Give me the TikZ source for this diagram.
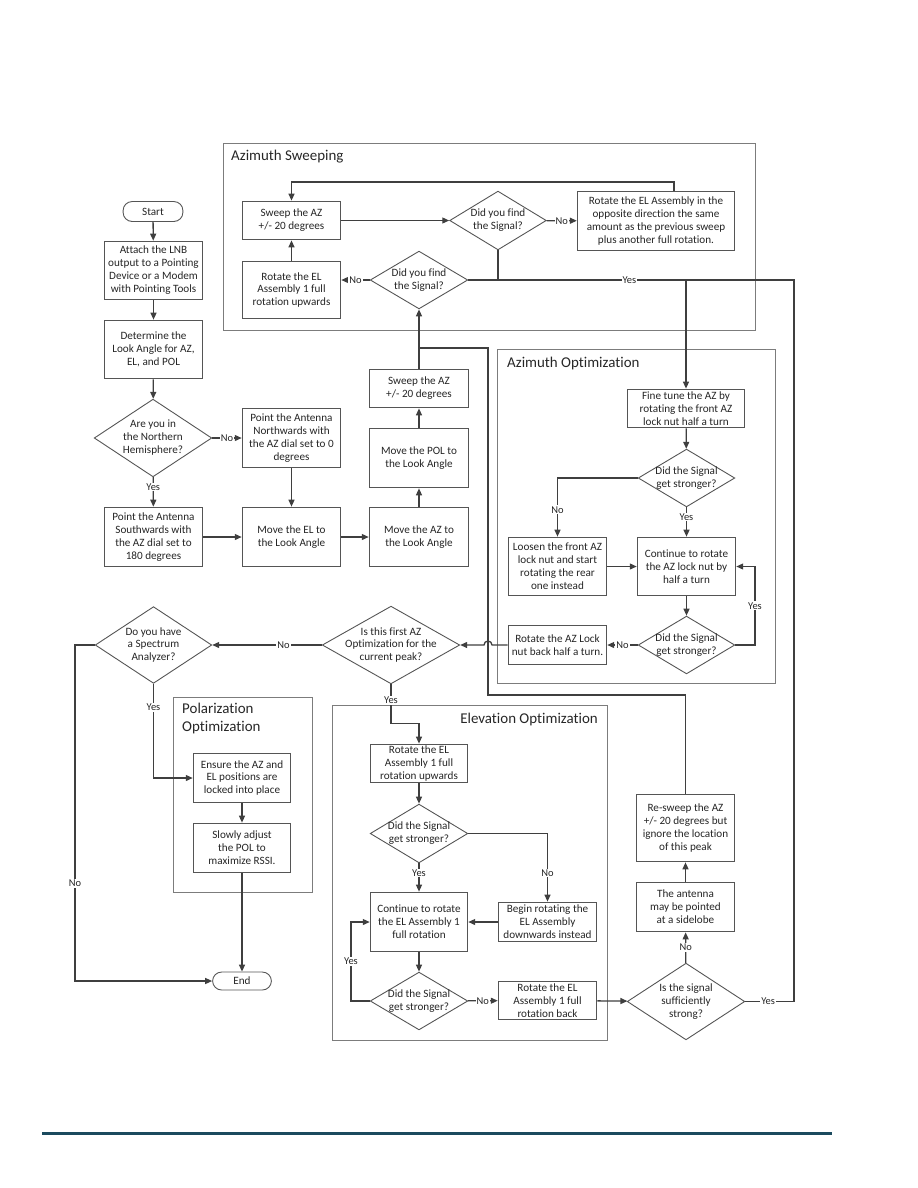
\documentclass[tikz,border=0pt]{standalone}
\usepackage{fontspec}
\setmainfont[Ligatures=NoCommon]{Carlito}
\usetikzlibrary{arrows.meta, shapes.geometric, calc}
\definecolor{flowink}{HTML}{262626}
\definecolor{flowline}{HTML}{3F3F3F}
\definecolor{flowbox}{HTML}{555555}
\definecolor{flowframe}{HTML}{7C7C7C}
\definecolor{footerteal}{HTML}{1B4A5E}
\newcommand{\flowfont}{\fontsize{11.2}{13}\selectfont}
\newcommand{\yesnofont}{\fontsize{10.5}{12}\selectfont}
\newcommand{\framefont}{\fontsize{15}{17.5}\selectfont}

\begin{document}
\begin{tikzpicture}[
  x=1bp,
  y=-1bp,
  every node/.style={text=flowink},
  proc/.style={draw=flowbox, line width=0.9pt, fill=white, align=center,
               font=\flowfont, inner sep=1pt, minimum width=99, minimum height=40},
  term/.style={draw=flowbox, line width=0.9pt, fill=white, rounded corners=9pt,
               font=\flowfont, inner sep=0pt, minimum width=60, minimum height=20},
  decision/.style={diamond, draw=flowbox, line width=0.9pt, fill=white,
                   inner sep=0pt, aspect=1.7},
  dectext/.style={align=center, font=\flowfont, inner sep=0pt},
  flow/.style={flowline, line width=1.3pt, -{Triangle[length=7pt, width=6pt]}},
  line/.style={flowline, line width=1.3pt},
  yesno/.style={fill=white, inner sep=1pt, font=\yesnofont},
  frame/.style={flowframe, line width=0.9pt},
  frametitle/.style={font=\framefont, inner sep=0pt},
  footer/.style={footerteal, line width=3pt}
]
  \useasboundingbox (0,0) rectangle (918,1188);

  % ---- group frames ----
  \draw[frame] (223,143) rectangle (755,330);
  \draw[frame] (497,349) rectangle (775,683);
  \draw[frame] (173,697) rectangle (312,892);
  \draw[frame] (332,705) rectangle (607,1040);
  \node[frametitle, anchor=west] (astitle) at (231,157) {Azimuth Sweeping};
  \node[frametitle, anchor=west] (aotitle) at (507,364) {Azimuth Optimization};
  \node[frametitle, anchor=north west, align=left] (potitle) at (182,703)
    {Polarization\\Optimization};
  \node[frametitle, anchor=east] (eotitle) at (598,720) {Elevation Optimization};

  % ---- set-up column ----
  \node[term] (start) at (153,211.5) {Start};
  \node[proc, minimum height=59] (attach) at (153.5,270.5)
    {Attach the LNB\\output to a Pointing\\Device or a Modem\\with Pointing Tools};
  \node[proc, minimum height=59] (determine) at (153.5,349.5)
    {Determine the\\Look Angle for AZ,\\EL, and POL};
  \node[decision, minimum width=118, minimum height=78,
        label={[dectext]center:{Are you in\\the Northern\\Hemisphere?}}] (nh) at (153,438) {};
  \node[proc, minimum height=60] (south) at (153.5,537)
    {Point the Antenna\\Southwards with\\the AZ dial set to\\180 degrees};
  \node[proc, minimum height=60] (north) at (291.5,438)
    {Point the Antenna\\Northwards with\\the AZ dial set to 0\\degrees};
  \node[proc, minimum height=60] (moveel) at (291.5,537) {Move the EL to\\the Look Angle};
  \node[proc, minimum width=100, minimum height=60] (moveaz) at (419,537)
    {Move the AZ to\\the Look Angle};
  \node[proc, minimum width=100, minimum height=60] (movepol) at (419,458)
    {Move the POL to\\the Look Angle};
  \node[proc, minimum width=100, minimum height=39] (sweepb) at (419,388.5)
    {Sweep the AZ\\+/- 20 degrees};

  % ---- azimuth sweeping ----
  \node[proc, minimum height=39] (sweepa) at (291.5,220.5) {Sweep the AZ\\+/- 20 degrees};
  \node[decision, minimum width=97, minimum height=59,
        label={[dectext]center:{Did you find\\the Signal?}}] (finda) at (498,220.5) {};
  \node[proc, minimum width=158, minimum height=60] (opp) at (656,221)
    {Rotate the EL Assembly in the\\opposite direction the same\\amount as the previous sweep\\plus another full rotation.};
  \node[proc, minimum height=58] (asrot) at (291.5,290)
    {Rotate the EL\\Assembly 1 full\\rotation upwards};
  \node[decision, minimum width=98, minimum height=58,
        label={[dectext]center:{Did you find\\the Signal?}}] (findb) at (419,280) {};
  \coordinate (looptop) at (674,182);
  \coordinate (yesrail) at (794,280);

  % ---- azimuth optimization ----
  \node[proc, minimum width=118, minimum height=39] (fine) at (686,408.5)
    {Fine tune the AZ by\\rotating the front AZ\\lock nut half a turn};
  \node[decision, minimum width=97, minimum height=58,
        label={[dectext]center:{Did the Signal\\get stronger?}}] (aoask) at (686.5,478) {};
  \node[proc, minimum height=59] (loosen) at (557.5,566.5)
    {Loosen the front AZ\\lock nut and start\\rotating the rear\\one instead};
  \node[proc, minimum height=59] (contaz) at (686.5,566.5)
    {Continue to rotate\\the AZ lock nut by\\half a turn};
  \node[decision, minimum width=97, minimum height=58,
        label={[dectext]center:{Did the Signal\\get stronger?}}] (aoagain) at (686.5,645) {};
  \node[proc, minimum height=40] (azback) at (557.5,645)
    {Rotate the AZ Lock\\nut back half a turn.};
  \coordinate (aorail) at (755,600);

  % ---- first optimization check and polarization ----
  \node[decision, minimum width=138, minimum height=78,
        label={[dectext]center:{Is this first AZ\\Optimization for the\\current peak?}}] (first) at (391,645) {};
  \node[decision, minimum width=117, minimum height=77,
        label={[dectext]center:{Do you have\\a Spectrum\\Analyzer?}}] (sa) at (153.5,645) {};
  \node[proc, minimum width=98, minimum height=50] (ensure) at (242,778)
    {Ensure the AZ and\\EL positions are\\locked into place};
  \node[proc, minimum width=98, minimum height=50] (slowly) at (242,848)
    {Slowly adjust\\the POL to\\maximize RSSI.};
  \node[term, minimum width=59, minimum height=18] (endt) at (242,981) {End};
  \coordinate (narail) at (75,800);

  % ---- elevation optimization ----
  \node[proc, minimum width=98, minimum height=39] (elup) at (419,763.5)
    {Rotate the EL\\Assembly 1 full\\rotation upwards};
  \node[decision, minimum width=98, minimum height=59,
        label={[dectext]center:{Did the Signal\\get stronger?}}] (eoask) at (419,833.5) {};
  \node[proc, minimum width=98, minimum height=60] (contel) at (419,922)
    {Continue to rotate\\the EL Assembly 1\\full rotation};
  \node[proc, minimum height=40] (beginel) at (547.5,922)
    {Begin rotating the\\EL Assembly\\downwards instead};
  \node[decision, minimum width=98, minimum height=58,
        label={[dectext]center:{Did the Signal\\get stronger?}}] (eoagain) at (419,1001) {};
  \node[proc, minimum height=39] (elback) at (547.5,1000.5)
    {Rotate the EL\\Assembly 1 full\\rotation back};
  \coordinate (eorail) at (351,960);

  % ---- sidelobe check ----
  \node[decision, minimum width=118, minimum height=77,
        label={[dectext]center:{Is the signal\\sufficiently\\strong?}}] (strong) at (686,1001.5) {};
  \node[proc, minimum height=50] (antenna) at (685.5,907)
    {The antenna\\may be pointed\\at a sidelobe};
  \node[proc, minimum height=68] (resweep) at (685.5,828)
    {Re-sweep the AZ\\+/- 20 degrees but\\ignore the location\\of this peak};
  \coordinate (rsturn) at (488,695);
  \coordinate (rsjoin) at (419,348);

  % ---- connectors: set-up ----
  \draw[flow] (start) -- (attach);
  \draw[flow] (attach) -- (determine);
  \draw[flow] (determine) -- (nh);
  \draw[flow] (nh) -- node[yesno]{No} (north);
  \draw[flow] (nh) -- node[yesno, pos=0.33]{Yes} (south);
  \draw[flow] (south) -- (moveel);
  \draw[flow] (north) -- (moveel);
  \draw[flow] (moveel) -- (moveaz);
  \draw[flow] (moveaz) -- (movepol);
  \draw[flow] (movepol) -- (sweepb);
  \draw[flow] (sweepb) -- (findb);

  % ---- connectors: azimuth sweeping ----
  \draw[flow] (findb.west) -- node[yesno]{No} (findb.west -| asrot.east);
  \draw[flow] (asrot) -- (sweepa);
  \draw[flow] (sweepa) -- (finda);
  \draw[flow] (finda) -- node[yesno]{No} (opp);
  \draw[flow] (opp.north -| looptop) -- (looptop) -| (sweepa.north);
  \draw[line] (finda.south) -- (finda.south |- findb.east);
  \draw[flow] (findb.east) -- node[yesno, pos=0.74]{Yes} (findb.east -| fine.north) -- (fine.north);
  \draw[line] (strong.east) -- node[yesno, pos=0.47]{Yes} (strong.east -| yesrail)
    -- (yesrail) -- (yesrail -| fine.north);

  % ---- connectors: azimuth optimization ----
  \draw[flow] (fine) -- (aoask);
  \draw[flow] (aoask.west) -| node[yesno, pos=0.77]{No} (loosen.north);
  \draw[flow] (aoask) -- node[yesno, pos=0.33]{Yes} (contaz);
  \draw[flow] (loosen) -- (contaz);
  \draw[flow] (contaz) -- (aoagain);
  \draw[flow] (aoagain.east) -- (aoagain.east -| aorail)
    -- node[yesno]{Yes} (aorail |- contaz.east) -- (contaz.east);
  \draw[flow] (aoagain) -- node[yesno]{No} (azback);
  \draw[flow] (azback.west) -- ($(azback.west -| rsturn)+(4,0)$)
    arc[start angle=0, end angle=-180, radius=4] -- (first.east);

  % ---- connectors: polarization ----
  \draw[flow] (first) -- node[yesno, pos=0.35]{No} (sa);
  \draw[flow] (sa.west) -- (sa.west -| narail)
    -- node[yesno, pos=0.71]{No} (narail |- endt.west) -- (endt.west);
  \draw[flow] (sa.south) -- node[yesno, pos=0.25]{Yes} (sa.south |- ensure.west) -- (ensure.west);
  \draw[flow] (ensure) -- (slowly);
  \draw[flow] (slowly) -- (endt);

  % ---- connectors: elevation ----
  \draw[flow] (first.south) -- node[yesno, pos=0.41]{Yes} ++(0,39) -| (elup.north);
  \draw[flow] (elup) -- (eoask);
  \draw[flow] (eoask.east) -| node[yesno, pos=0.79]{No} (beginel.north);
  \draw[flow] (eoask) -- node[yesno, pos=0.34]{Yes} (contel);
  \draw[flow] (beginel) -- (contel);
  \draw[flow] (contel) -- (eoagain);
  \draw[flow] (eoagain.west) -- (eoagain.west -| eorail)
    -- node[yesno]{Yes} (eorail |- contel.west) -- (contel.west);
  \draw[flow] (eoagain) -- node[yesno]{No} (elback);
  \draw[flow] (elback) -- (strong);

  % ---- connectors: sidelobe ----
  \draw[flow] (strong) -- node[yesno]{No} (antenna);
  \draw[flow] (antenna) -- (resweep);
  \draw[line] (resweep.north) |- (rsturn) |- (rsjoin);

  % ---- page rule ----
  \coordinate (rulel) at (42,1133);
  \coordinate (ruler) at (832,1133);
  \draw[footer] (rulel) -- (ruler);
\end{tikzpicture}
\end{document}
